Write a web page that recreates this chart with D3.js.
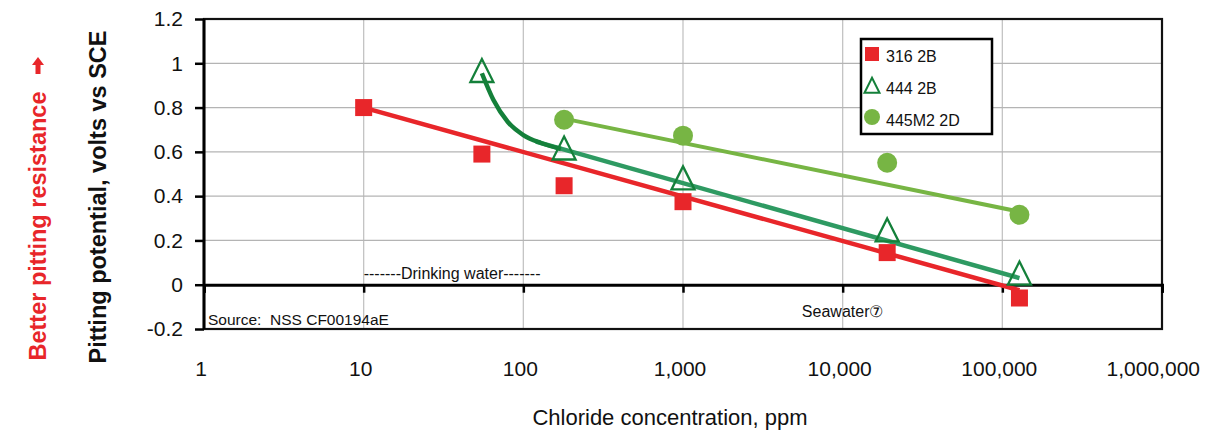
<!DOCTYPE html>
<html><head><meta charset="utf-8">
<script src="https://cdn.jsdelivr.net/npm/d3@7"></script>
<style>body{margin:0;background:#fff}svg{display:block}</style>
</head><body>
<script>
const xTicks = [1, 10, 100, 1000, 10000, 100000, 1000000];
const xTickLabels = ["1", "10", "100", "1,000", "10,000", "100,000", "1,000,000"];
const yTicks = [-0.2, 0, 0.2, 0.4, 0.6, 0.8, 1, 1.2];
const yTickLabels = ["-0.2", "0", "0.2", "0.4", "0.6", "0.8", "1", "1.2"];

const seriesNames = ["316 2B", "444 2B", "445M2 2D"];
const chloride316 = [10, 55, 180, 1000, 19000, 128000];
const potential316 = [0.80, 0.59, 0.447, 0.375, 0.145, -0.06];
const chloride444 = [55, 180, 1000, 19000, 128000];
const potential444 = [0.955, 0.605, 0.47, 0.235, 0.04];
const chloride445 = [180, 1000, 19000, 128000];
const potential445 = [0.745, 0.673, 0.551, 0.316];

const trend316X = [10, 128000], trend316Y = [0.80, -0.025];
const curve444X = [55, 65, 80, 100, 129, 172], curve444Y = [0.955, 0.834, 0.735, 0.676, 0.640, 0.613];
const trend444X = [120, 128000], trend444Y = [0.646, 0.03];
const trend445X = [180, 128000], trend445Y = [0.75, 0.33];

const W = 1224, H = 434;
const m = {l: 204, r: 1162, t: 19, b: 329};
const red = "#e8262a", dkGreen = "#14803a", midGreen = "#2e9a62", ltGreen = "#77b544";
const font = "'Liberation Sans', Arial, sans-serif";

const svg = d3.select("body").append("svg").attr("width", W).attr("height", H);
const x = d3.scaleLog().domain([1, 1000000]).range([m.l, m.r]);
const y = d3.scaleLinear().domain([-0.2, 1.2]).range([m.b, m.t]);

// gridlines
const g = svg.append("g");
g.selectAll(".vg").data(xTicks).join("line")
  .attr("x1", d => x(d)).attr("x2", d => x(d)).attr("y1", m.t).attr("y2", m.b)
  .attr("stroke", "#c4c4c4").attr("stroke-width", 1.3);
g.selectAll(".hg").data(yTicks).join("line")
  .attr("x1", m.l).attr("x2", m.r).attr("y1", d => y(d)).attr("y2", d => y(d))
  .attr("stroke", "#b4b4b4").attr("stroke-width", 1.3);

// frame
svg.append("rect").attr("x", m.l).attr("y", m.t).attr("width", m.r - m.l).attr("height", m.b - m.t)
  .attr("fill", "none").attr("stroke", "#111").attr("stroke-width", 2.2);
svg.append("line").attr("x1", m.l).attr("x2", m.l).attr("y1", m.t).attr("y2", m.b)
  .attr("stroke", "#000").attr("stroke-width", 3);

// y axis
const yAxis = d3.axisLeft(y).tickValues(yTicks).tickFormat((d, i) => yTickLabels[i]).tickSize(9).tickPadding(12);
const ya = svg.append("g").attr("transform", `translate(${m.l},0)`).call(yAxis);
ya.select(".domain").remove();
ya.selectAll("line").attr("stroke", "#000").attr("stroke-width", 2.5);
ya.selectAll("text").attr("font-family", font).attr("font-size", 21).attr("fill", "#111");

// zero line with x ticks
const xAxis = d3.axisBottom(x).tickValues(xTicks).tickFormat(() => "").tickSize(8);
const xa = svg.append("g").attr("transform", `translate(0,${y(0)})`).call(xAxis);
xa.select(".domain").attr("stroke", "#000").attr("stroke-width", 3);
xa.selectAll("line").attr("stroke", "#000").attr("stroke-width", 2.5);

// x tick labels (below plot)
svg.append("g").selectAll("text").data(xTicks).join("text")
  .attr("y", 376).attr("text-anchor", "middle")
  .attr("font-family", font).attr("font-size", 21).attr("fill", "#111")
  .text((d, i) => xTickLabels[i])
  .attr("x", function(d) {
    const w = this.getComputedTextLength();
    return Math.min(x(d) - 3, 1200 - w / 2);
  });

// annotations
const small = 15.5;
svg.append("text").attr("x", m.l + 4).attr("y", 325).attr("font-family", font).attr("font-size", small)
  .style("white-space", "pre").attr("fill", "#111").text("Source:  NSS CF00194aE");
svg.append("text").attr("x", x(10)).attr("y", 279).attr("font-family", font).attr("font-size", 16)
  .attr("fill", "#111").text("-------Drinking water-------");
svg.append("text").attr("x", x(10000)).attr("y", 317).attr("text-anchor", "middle").attr("font-family", font).attr("font-size", 16)
  .attr("fill", "#111").text("Seawater⑦");

// lines
const line = d3.line().x(d => x(d[0])).y(d => y(d[1]));
const zip = (a, b) => a.map((v, i) => [v, b[i]]);
svg.append("path").datum(zip(trend445X, trend445Y)).attr("d", line)
  .attr("fill", "none").attr("stroke", ltGreen).attr("stroke-width", 4);
svg.append("path").datum(zip(trend444X, trend444Y)).attr("d", line)
  .attr("fill", "none").attr("stroke", midGreen).attr("stroke-width", 4.5);
svg.append("path").datum(zip(curve444X, curve444Y)).attr("d", d3.line().x(d => x(d[0])).y(d => y(d[1])).curve(d3.curveMonotoneX))
  .attr("fill", "none").attr("stroke", dkGreen).attr("stroke-width", 4.5);
svg.append("path").datum(zip(trend316X, trend316Y)).attr("d", line)
  .attr("fill", "none").attr("stroke", red).attr("stroke-width", 4.5);

// markers
const sq = 17;
svg.append("g").selectAll("rect").data(zip(chloride316, potential316)).join("rect")
  .attr("x", d => x(d[0]) - sq / 2).attr("y", d => y(d[1]) - sq / 2).attr("width", sq).attr("height", sq)
  .attr("fill", red);
svg.append("g").selectAll("circle").data(zip(chloride445, potential445)).join("circle")
  .attr("cx", d => x(d[0])).attr("cy", d => y(d[1])).attr("r", 10).attr("fill", ltGreen);
const tri = (cx, cy, s) => `M${cx},${cy - s * 0.62}L${cx + s / 2},${cy + s * 0.38}L${cx - s / 2},${cy + s * 0.38}Z`;
svg.append("g").selectAll("path").data(zip(chloride444, potential444)).join("path")
  .attr("d", d => tri(x(d[0]), y(d[1]), 23)).attr("fill", "none").attr("stroke", dkGreen).attr("stroke-width", 2.3);

// legend
const lg = svg.append("g");
lg.append("rect").attr("x", 861).attr("y", 39).attr("width", 131).attr("height", 95)
  .attr("fill", "#fff").attr("stroke", "#000").attr("stroke-width", 2.5);
lg.append("rect").attr("x", 865).attr("y", 47).attr("width", 14).attr("height", 14).attr("fill", red);
lg.append("path").attr("d", tri(872, 87, 15)).attr("fill", "none").attr("stroke", dkGreen).attr("stroke-width", 2);
lg.append("circle").attr("cx", 872).attr("cy", 117).attr("r", 8).attr("fill", ltGreen);
lg.selectAll("text").data(seriesNames).join("text")
  .attr("x", 886).attr("y", (d, i) => 62 + i * 32).attr("font-family", font).attr("font-size", 16)
  .attr("fill", "#111").text(d => d);

// axis titles
svg.append("text").attr("x", 670).attr("y", 425).attr("text-anchor", "middle")
  .attr("font-family", font).attr("font-size", 22).attr("fill", "#111").text("Chloride concentration, ppm");
svg.append("text").attr("transform", "translate(106,197) rotate(-90)").attr("text-anchor", "middle")
  .attr("font-family", font).attr("font-size", 23.5).attr("font-weight", "bold").attr("fill", "#111")
  .text("Pitting potential, volts vs SCE");
svg.append("text").attr("transform", "translate(46,226) rotate(-90)").attr("text-anchor", "middle")
  .attr("font-family", font).attr("font-size", 23.5).attr("font-weight", "bold").attr("fill", red)
  .text("Better pitting resistance");
// arrow
svg.append("path").attr("d", "M38,57 L44,65 L40.5,65 L40.5,74 L35.5,74 L35.5,65 L32,65 Z").attr("fill", red);
</script>
</body></html>
